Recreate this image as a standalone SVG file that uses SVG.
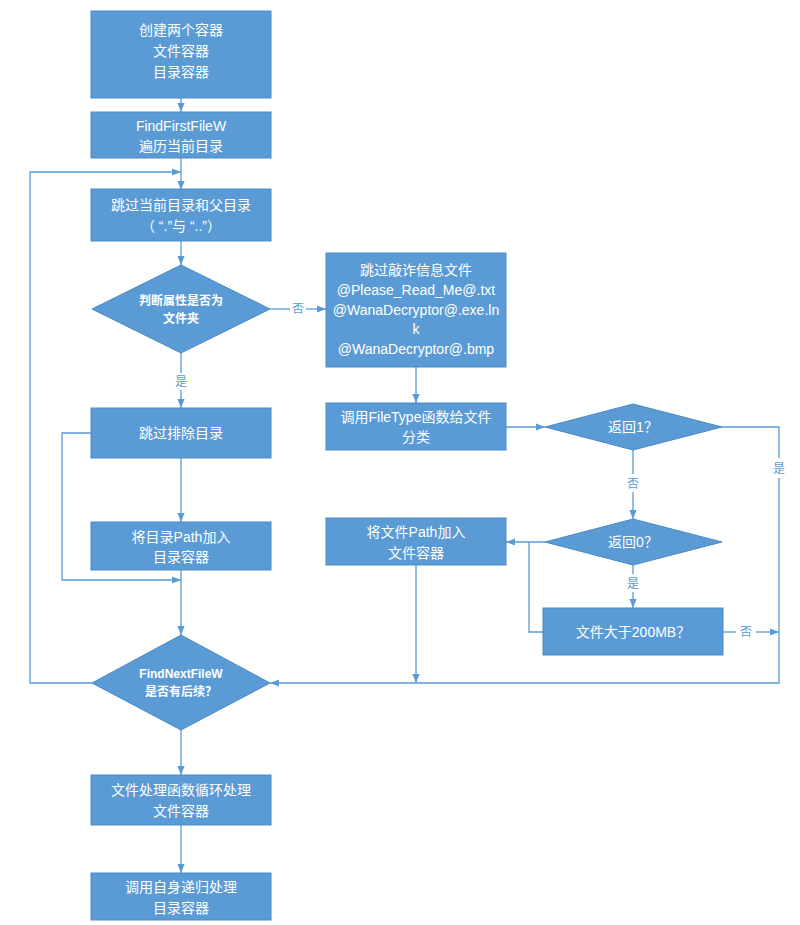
<svg xmlns="http://www.w3.org/2000/svg" width="800" height="925" viewBox="0 0 800 925">
<defs>
<marker id="a" viewBox="0 0 10 10" refX="10" refY="5" markerWidth="7" markerHeight="7" orient="auto"><path d="M0,1 L10,5 L0,9 z" fill="#5b9bd5"/></marker>
</defs>
<style>
.n{fill:#5b9bd5;stroke:#4a8ac4;stroke-width:1}
.t{fill:#fff;font-family:"Liberation Sans","Noto Sans CJK SC",sans-serif;font-size:14px;text-anchor:middle}
.s{font-size:12px;font-weight:bold}
.c{fill:none;stroke:#5b9bd5;stroke-width:1.3;marker-end:url(#a)}
.p{fill:none;stroke:#5b9bd5;stroke-width:1.3}
.l{fill:#5b9bd5;font-family:"Liberation Sans","Noto Sans CJK SC",sans-serif;font-size:12px;text-anchor:middle}
</style>
<rect width="800" height="925" fill="#fff"/>
<g id="connectors">
<path class="c" d="M181,98 V112"/>
<path class="c" d="M181,158 V190"/>
<path class="c" d="M181,241 V265"/>
<path class="p" d="M181,353 V373"/><path class="c" d="M181,390 V408"/>
<path class="c" d="M181,458 V522"/>
<path class="c" d="M181,570 V635"/>
<path class="c" d="M181,730 V775"/>
<path class="c" d="M181,825 V873"/>
<path class="p" d="M270,309 H290"/><path class="c" d="M306,309 H326"/>
<path class="c" d="M416,367 V403"/>
<path class="c" d="M506,427 H545"/>
<path class="p" d="M633,450 V474"/><path class="c" d="M633,492 V519"/>
<path class="c" d="M545,542 H506"/>
<path class="p" d="M633,565 V574"/><path class="c" d="M633,592 V608"/>
<path class="p" d="M543,632 H529 V542"/>
<path class="p" d="M723,632 H736"/><path class="c" d="M756,632 H779"/>
<path class="p" d="M722,427 H779 V458"/><path class="c" d="M779,478 V683 H270"/>
<path class="c" d="M416,565 V683"/>
<path class="c" d="M91,433 H62 V580 H181"/>
<path class="c" d="M92,683 H30 V172 H181"/>
</g>
<g class="l">
<text x="298" y="313">否</text>
<text x="181" y="386">是</text>
<text x="633" y="488">否</text>
<text x="633" y="588">是</text>
<text x="746" y="636">否</text>
<text x="779" y="473">是</text>
</g>
<g id="n1"><rect class="n" x="91" y="11" width="180" height="87"/><text class="t" x="181" y="35">创建两个容器</text><text class="t" x="181" y="56">文件容器</text><text class="t" x="181" y="77">目录容器</text></g>
<g id="n2"><rect class="n" x="91" y="112" width="180" height="46"/><text class="t" x="181" y="131">FindFirstFileW</text><text class="t" x="181" y="151">遍历当前目录</text></g>
<g id="n3"><rect class="n" x="91" y="189" width="180" height="52"/><text class="t" x="181" y="210">跳过当前目录和父目录</text><text class="t" x="181" y="231">（ “.”与 “..”）</text></g>
<g id="n4"><polygon class="n" points="181,265 270,309 181,353 92,309"/><text class="t s" x="181" y="305">判断属性是否为</text><text class="t s" x="181" y="323">文件夹</text></g>
<g id="n5"><rect class="n" x="326" y="253" width="180" height="114"/><text class="t" x="416" y="275">跳过敲诈信息文件</text><text class="t" x="416" y="295">@Please_Read_Me@.txt</text><text class="t" x="416" y="315">@WanaDecryptor@.exe.ln</text><text class="t" x="416" y="334">k</text><text class="t" x="416" y="354">@WanaDecryptor@.bmp</text></g>
<g id="n6"><rect class="n" x="91" y="408" width="180" height="50"/><text class="t" x="181" y="438">跳过排除目录</text></g>
<g id="n7"><rect class="n" x="91" y="522" width="180" height="48"/><text class="t" x="181" y="542">将目录Path加入</text><text class="t" x="181" y="562">目录容器</text></g>
<g id="n8"><rect class="n" x="326" y="403" width="180" height="47"/><text class="t" x="416" y="422">调用FileType函数给文件</text><text class="t" x="416" y="442">分类</text></g>
<g id="n9"><polygon class="n" points="633,404 722,427 633,450 545,427"/><text class="t" x="633" y="432">返回1？</text></g>
<g id="n10"><polygon class="n" points="633,519 722,542 633,565 545,542"/><text class="t" x="633" y="547">返回0？</text></g>
<g id="n11"><rect class="n" x="326" y="518" width="180" height="47"/><text class="t" x="416" y="537">将文件Path加入</text><text class="t" x="416" y="558">文件容器</text></g>
<g id="n12"><rect class="n" x="543" y="608" width="180" height="47"/><text class="t" x="633" y="637">文件大于200MB？</text></g>
<g id="n13"><polygon class="n" points="181,635 270,683 181,730 92,683"/><text class="t s" x="181" y="678">FindNextFileW</text><text class="t s" x="181" y="696">是否有后续？</text></g>
<g id="n14"><rect class="n" x="91" y="775" width="180" height="50"/><text class="t" x="181" y="795">文件处理函数循环处理</text><text class="t" x="181" y="816">文件容器</text></g>
<g id="n15"><rect class="n" x="91" y="873" width="180" height="47"/><text class="t" x="181" y="892">调用自身递归处理</text><text class="t" x="181" y="913">目录容器</text></g>
</svg>
